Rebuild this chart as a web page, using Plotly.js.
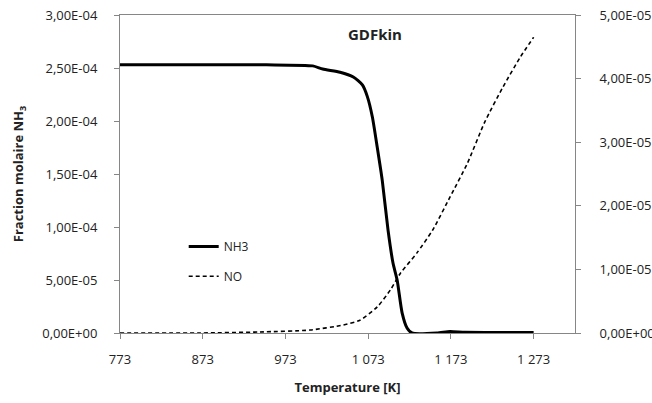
<!DOCTYPE html>
<html><head><meta charset="utf-8">
<script src="https://cdn.plot.ly/plotly-3.0.1.min.js"></script>
<style>body{margin:0;background:#fff}#c{width:652px;height:403px}</style>
</head><body><div id="c"></div>
<script>
const nh3T = [773, 850, 950, 1006, 1018, 1039, 1055, 1066, 1072, 1078, 1084, 1090, 1097, 1103, 1108, 1114, 1120, 1126, 1156, 1172, 1190, 1230, 1273];
const nh3Y = [2.53e-4, 2.53e-4, 2.53e-4, 2.52e-4, 2.49e-4, 2.46e-4, 2.415e-4, 2.34e-4, 2.23e-4, 2.04e-4, 1.75e-4, 1.44e-4, 9.7e-5, 6.6e-5, 5.0e-5, 1.9e-5, 4.7e-6, 0, 0, 1.5e-6, 6e-7, 5e-7, 5e-7];
const noT = [773, 870, 942, 1003, 1043, 1063, 1084, 1100, 1112, 1132, 1151, 1172, 1193, 1214, 1236, 1257, 1273];
const noY = [0, 0, 1.6e-7, 4.7e-7, 1.26e-6, 2.0e-6, 4.1e-6, 6.8e-6, 9.4e-6, 1.26e-5, 1.62e-5, 2.14e-5, 2.67e-5, 3.32e-5, 3.87e-5, 4.34e-5, 4.65e-5];
const xTicks = [773, 873, 973, 1073, 1173, 1273];
const xTickText = ["773", "873", "973", "1 073", "1 173", "1 273"];
const yTicks = [0, 5e-5, 1e-4, 1.5e-4, 2e-4, 2.5e-4, 3e-4];
const yTickText = ["0,00E+00", "5,00E-05", "1,00E-04", "1,50E-04", "2,00E-04", "2,50E-04", "3,00E-04"];
const y2Ticks = [0, 1e-5, 2e-5, 3e-5, 4e-5, 5e-5];
const y2TickText = ["0,00E+00", "1,00E-05", "2,00E-05", "3,00E-05", "4,00E-05", "5,00E-05"];

const F = "'Open Sans', sans-serif";
const TC = "#222";
const axisCol = "#868686";
const data = [
  {x: nh3T, y: nh3Y, name: "NH3", mode: "lines", line: {color: "#000", width: 3, shape: "spline", smoothing: 0.6}, yaxis: "y", legend: "legend"},
  {x: noT, y: noY, name: "NO", mode: "lines", line: {color: "#000", width: 1.6, dash: "4px,3px", shape: "spline", smoothing: 0.6}, yaxis: "y2", legend: "legend2"}
];
const legFont = {family: F, size: 12, color: TC};
const tickFont = {family: F, size: 13, color: TC};
const layout = {
  width: 652, height: 403,
  margin: {l: 120, r: 77, t: 15, b: 70},
  paper_bgcolor: "#fff", plot_bgcolor: "#fff",
  font: {family: F, size: 12, color: TC},
  showlegend: true,
  legend: {x: 0.14, y: 0.318, xanchor: "left", yanchor: "top", bgcolor: "rgba(0,0,0,0)", font: legFont, itemwidth: 30},
  legend2: {x: 0.14, y: 0.224, xanchor: "left", yanchor: "top", bgcolor: "rgba(0,0,0,0)", font: legFont, itemwidth: 30},
  annotations: [{text: "<b>GDFkin</b>", xref: "paper", yref: "paper", x: 0.56, y: 0.94, yanchor: "middle", showarrow: false, font: {family: F, size: 15, color: TC}}],
  xaxis: {range: [773, 1323], tickvals: xTicks, ticktext: xTickText, showline: true, linecolor: axisCol, linewidth: 1, mirror: true, tickfont: tickFont,
    ticks: "outside", ticklen: 5, tickcolor: axisCol, showgrid: false, zeroline: false, ticklabelstandoff: 9,
    title: {text: "<b>Temperature [K]</b>", font: {family: F, size: 13, color: TC}, standoff: 16}},
  yaxis: {range: [0, 3e-4], tickvals: yTicks, ticktext: yTickText, showline: true, linecolor: axisCol, linewidth: 1, tickfont: tickFont,
    ticks: "outside", ticklen: 5, tickcolor: axisCol, showgrid: false, zeroline: false, ticklabelstandoff: 14,
    title: {text: "<b>Fraction molaire NH<sub>3</sub></b>", font: {family: F, size: 13, color: TC}, standoff: 15}},
  yaxis2: {range: [0, 5e-5], overlaying: "y", side: "right", tickvals: y2Ticks, ticktext: y2TickText, showline: true, linecolor: axisCol, linewidth: 1, tickfont: tickFont,
    ticks: "outside", ticklen: 5, tickcolor: axisCol, showgrid: false, zeroline: false, ticklabelstandoff: 16}
};
Plotly.newPlot("c", data, layout, {displayModeBar: false, staticPlot: true});
</script></body></html>
